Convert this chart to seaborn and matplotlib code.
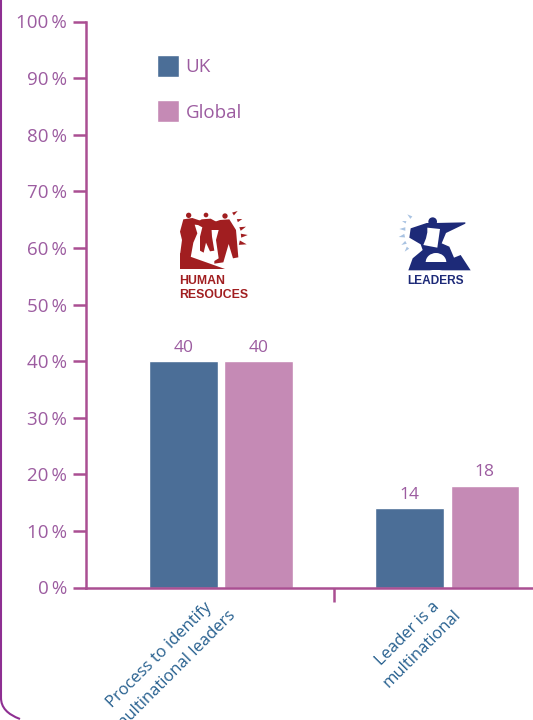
import matplotlib
matplotlib.use("Agg")
import matplotlib.pyplot as plt
from matplotlib.patches import Circle, Ellipse, PathPatch, Polygon
from matplotlib.path import Path
from matplotlib.transforms import ScaledTranslation
import pandas as pd
import seaborn as sns

# Survey shares, in percent
categories = ["Process to identify\nmultinational leaders", "Leader is a\nmultinational"]
uk_values = [40, 14]
global_values = [40, 18]
series_names = ["UK", "Global"]
y_ticks = list(range(0, 101, 10))

AXIS = "#AA4F92"
BORDER = "#8E2F92"
TEXT = "#9C5CA0"
LABEL = "#27608F"
UK = "#4B6E97"
GLOBAL = "#C58AB5"
RED = "#A11E20"
NAVY = "#1D2A78"
SKY = "#A9C3E2"

sns.set_theme(style="white")
plt.rcParams["font.family"] = ["Open Sans", "DejaVu Sans"]

W, H = 533, 720
fig = plt.figure(figsize=(W / 100, H / 100), dpi=100, facecolor="white")
ax = fig.add_axes([85.5 / W, 1 - 587.5 / H, (W - 85.5) / W, 566 / H])

table = pd.DataFrame({
    "category": categories * 2,
    "series": [series_names[0]] * 2 + [series_names[1]] * 2,
    "share": uk_values + global_values,
})
sns.barplot(data=table, x="category", y="share", hue="series", hue_order=series_names,
            palette=[UK, GLOBAL], width=0.665, gap=0.09, saturation=1, ax=ax)

ax.set_ylim(0, 100)
ax.set_xlim(-0.5985, 1.379)
ax.set_xlabel("")
ax.set_ylabel("")
ax.set_facecolor("none")
ax.set_yticks(y_ticks, [f"{t}\u2009%" for t in y_ticks])
ax.tick_params(axis="y", length=9.4, width=1.8, color=AXIS, labelcolor=TEXT, labelsize=13.5,
               pad=4, left=True)
ax.tick_params(axis="x", which="major", length=0, labelcolor=LABEL, labelsize=12, pad=6)
ax.set_xticks([0.5], minor=True)
ax.tick_params(axis="x", which="minor", length=10, width=1.8, color=AXIS, bottom=True)
label_shift = ScaledTranslation(-9 / 100, 4 / 100, fig.dpi_scale_trans)
for tick_label in ax.get_xticklabels():
    tick_label.set(rotation=45, ha="right", va="top", rotation_mode="anchor",
                   multialignment="center", linespacing=1.45)
    tick_label.set_transform(tick_label.get_transform() + label_shift)
for name in ("top", "right"):
    ax.spines[name].set_visible(False)
for name in ("left", "bottom"):
    ax.spines[name].set(color=AXIS, linewidth=1.8)

for container in ax.containers:
    ax.bar_label(container, color=TEXT, fontsize=12.5, padding=4)

ax.legend(loc="upper left", bbox_to_anchor=(71.5 / (W - 85.5), 1 - 33.5 / 566), frameon=False,
          fontsize=13.5, labelcolor=TEXT, handlelength=1.18, handleheight=1.43, handletextpad=0.35,
          labelspacing=1.24, borderpad=0, borderaxespad=0)

# Overlay in pixel coordinates for the panel outline and the two emblems
overlay = fig.add_axes([0, 0, 1, 1], zorder=5)
overlay.set_xlim(0, W)
overlay.set_ylim(H, 0)
overlay.axis("off")

outline = Path([(1, 0), (1, 698), (1, 712), (20, 719)],
               [Path.MOVETO, Path.LINETO, Path.CURVE3, Path.CURVE3])
overlay.add_patch(PathPatch(outline, fill=False, edgecolor=BORDER, linewidth=1.5))


def emblem_poly(points, origin, color):
    pts = [(origin[0] + x / 3, origin[1] + y / 3) for x, y in points]
    overlay.add_patch(Polygon(pts, closed=True, facecolor=color, edgecolor="none"))


def emblem_head(center, radius, origin, color):
    overlay.add_patch(Circle((origin[0] + center[0] / 3, origin[1] + center[1] / 3),
                             radius / 3, facecolor=color, edgecolor="none"))


def ray(tip, tail, origin, color):
    dx, dy = tail[0] - tip[0], tail[1] - tip[1]
    emblem_poly([tip, (tail[0] - dy * 0.3, tail[1] + dx * 0.3), (tail[0] + dy * 0.3, tail[1] - dx * 0.3)],
                origin, color)


# Human resources emblem
hr = (160, 200)
emblem_poly([(60, 160), (60, 206), (196, 206)], hr, RED)
emblem_poly([(70, 58), (97, 54), (127, 64), (127, 76), (104, 74), (112, 100), (100, 128), (92, 172),
             (60, 165), (66, 120), (60, 95)], hr, RED)
emblem_poly([(125, 58), (152, 56), (174, 68), (154, 78), (156, 110), (163, 152), (150, 154),
             (138, 128), (131, 158), (120, 152), (120, 110), (127, 82), (105, 70)], hr, RED)
emblem_poly([(180, 60), (208, 58), (228, 90), (235, 172), (219, 175), (206, 132), (190, 187),
             (163, 191), (163, 183), (176, 175), (168, 120), (176, 90), (140, 90), (140, 74)], hr, RED)
emblem_head((86, 46), 8, hr, RED)
emblem_head((138, 45), 7, hr, RED)
emblem_head((195, 48), 8, hr, RED)
for tip, tail in [((219, 42), (233, 33)), ((232, 62), (247, 57)), ((240, 87), (258, 80)),
                  ((243, 107), (263, 105)), ((238, 128), (260, 133))]:
    ray(tail, tip, hr, RED)
overlay.text(179.5, 280.5, "HUMAN", color=RED, fontsize=8.8, fontweight="bold",
             family="Liberation Sans", va="center", ha="left")
overlay.text(179.5, 295, "RESOUCES", color=RED, fontsize=8.8, fontweight="bold",
             family="Liberation Sans", va="center", ha="left")

# Leaders emblem
ld = (390, 205)
emblem_poly([(135, 54), (226, 52), (226, 56), (168, 84), (155, 115), (178, 125), (192, 158), (212, 150),
             (242, 196), (55, 196), (68, 160), (98, 135), (92, 118), (58, 98), (62, 70), (110, 54)],
            ld, NAVY)
emblem_head((128, 50), 13, ld, NAVY)
emblem_poly([(112, 68), (150, 72), (142, 128), (100, 120), (108, 100), (112, 82)], ld, "white")
overlay.add_patch(Ellipse((ld[0] + 138 / 3, ld[1] + 172 / 3), 62 / 3, 56 / 3, facecolor="white", edgecolor="none"))
emblem_poly([(100, 172), (180, 172), (180, 196), (100, 196)], ld, NAVY)
for tip, tail in [((64, 38), (52, 28)), ((48, 52), (36, 48)), ((46, 72), (28, 72)),
                  ((44, 92), (26, 96)), ((48, 112), (34, 120)), ((54, 128), (44, 140))]:
    ray(tail, tip, ld, SKY)
overlay.text(436, 280.5, "LEADERS", color=NAVY, fontsize=8.6, fontweight="bold",
             family="Liberation Sans", va="center", ha="center")

fig.savefig("out.png", dpi=100)
